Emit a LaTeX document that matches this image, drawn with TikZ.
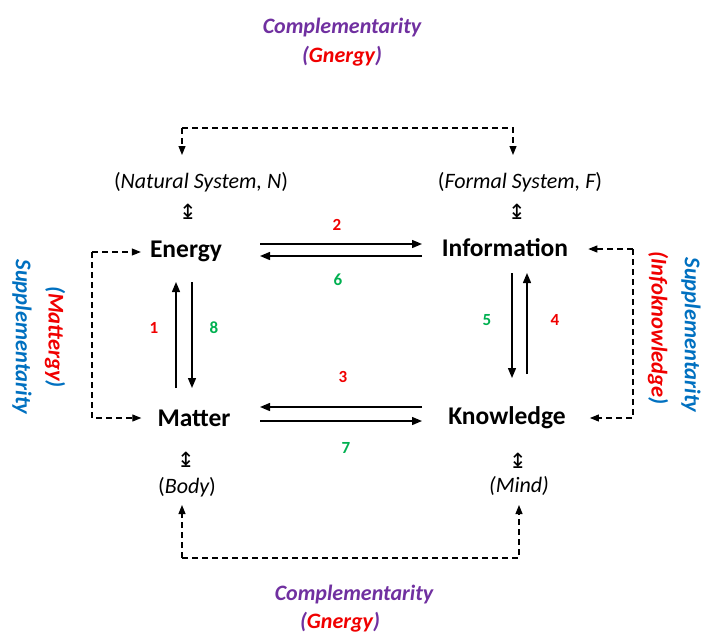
\documentclass[tikz,border=0pt]{standalone}
\usepackage{fontspec}
\setmainfont{Carlito}
\newfontfamily\symfont{DejaVu Sans}
\usetikzlibrary{arrows.meta,calc}
\definecolor{cpurple}{HTML}{7030A0}
\definecolor{cred}{HTML}{F00000}
\definecolor{cblue}{HTML}{0070C0}
\definecolor{cgreen}{HTML}{00B050}
\tikzset{
  mainnode/.style={font=\bfseries\fontsize{25.5}{30}\selectfont, inner sep=0pt, anchor=base},
  sysnode/.style={font=\itshape\fontsize{22}{26}\selectfont, inner sep=0pt, anchor=base},
  updown/.style={font=\symfont\fontsize{21}{24}\selectfont, inner sep=0pt},
  numred/.style={font=\bfseries\fontsize{17}{20}\selectfont, text=cred, inner sep=0pt},
  numgreen/.style={font=\bfseries\fontsize{17}{20}\selectfont, text=cgreen, inner sep=0pt},
  sidelabel/.style={font=\bfseries\itshape\fontsize{22}{26}\selectfont, inner sep=0pt, anchor=base},
  vlabel/.style={font=\bfseries\itshape\fontsize{22.5}{26}\selectfont, inner sep=0pt, rotate=-90},
  solidarr/.style={line width=1.4pt, -{Triangle[length=10pt,width=8pt]}},
  dasharr/.style={line width=1.1pt, dash pattern=on 6pt off 4pt, -{Triangle[length=9pt,width=7pt]}},
}
\begin{document}
\begin{tikzpicture}[x=1pt,y=-1pt]
\useasboundingbox (0,0) rectangle (701,635);
% top labels
\node[sidelabel, text=cpurple] (ctop) at (342,33) {Complementarity};
\node[sidelabel] (gtop) at (342,62) {\textcolor{cpurple}{(}\textcolor{cred}{Gnergy}\textcolor{cpurple}{)}};
% bottom labels
\node[sidelabel, text=cpurple] (cbot) at (354,600) {Complementarity};
\node[sidelabel] (gbot) at (340,628) {\textcolor{cpurple}{(}\textcolor{cred}{Gnergy}\textcolor{cpurple}{)}};
% system labels
\node[sysnode] (N) at (201,188) {\upshape(\itshape Natural System, N\upshape)};
\node[sysnode] (F) at (520,188) {\upshape(\itshape Formal System, F\upshape)};
\node[sysnode] (B) at (187,493) {\upshape(\itshape Body\upshape)};
\node[sysnode] (Mi) at (519,492) {(Mind)};
% up-down symbols
\node[updown] (ud1) at (188,212) {↨};
\node[updown] (ud2) at (517,212) {↨};
\node[updown] (ud3) at (186,460) {↨};
\node[updown] (ud4) at (518,461) {↨};
% main nodes
\node[mainnode] (E) at (186,257) {Energy};
\node[mainnode] (I) at (505,256) {Information};
\node[mainnode] (M) at (194,426) {Matter};
\node[mainnode] (K) at (507,424) {Knowledge};
% horizontal arrows top
\draw[solidarr] ($(E.base)+(74,-13)$) -- ($(I.base)+(-83,-12)$);
\draw[solidarr] ($(I.base)+(-83,0)$) -- ($(E.base)+(74,-1)$);
\node[numred] (n2) at (337,225) {2};
\node[numgreen] (n6) at (338,280) {6};
% horizontal arrows bottom
\draw[solidarr] ($(K.base)+(-85,-17)$) -- ($(M.base)+(66,-19)$);
\draw[solidarr] ($(M.base)+(66,-5)$) -- ($(K.base)+(-85,-3)$);
\node[numred] (n3) at (343,377) {3};
\node[numgreen] (n7) at (346,448) {7};
% vertical arrows left
\draw[solidarr] ($(M.base)+(-18,-38)$) -- ($(E.base)+(-10,25)$);
\draw[solidarr] ($(E.base)+(6,25)$) -- ($(M.base)+(-2,-38)$);
\node[numred] (n1) at (154,328) {1};
\node[numgreen] (n8) at (214,328) {8};
% vertical arrows right
\draw[solidarr] ($(I.base)+(7,17)$) -- ($(K.base)+(5,-46)$);
\draw[solidarr] ($(K.base)+(20,-50)$) -- ($(I.base)+(22,17)$);
\node[numgreen] (n5) at (487,320) {5};
\node[numred] (n4) at (555,320) {4};
% dashed connectors
\coordinate (tl) at (182,128);
\coordinate (tr) at (513,128);
\draw[dasharr] (tl) -- ++(0,27);
\draw[dasharr] (tl) -- (tr) -- ++(0,27);
\coordinate (bl) at (182,558);
\coordinate (br) at (519,558);
\draw[dasharr] (bl) -- ++(0,-53);
\draw[dasharr] (bl) -- (br) -- ++(0,-53);
\coordinate (ll1) at (92,252);
\coordinate (ll2) at (92,418);
\draw[dasharr] (ll1) -- ($(E.west |- ll1)+(-9,0)$);
\draw[dasharr] (ll1) -- (ll2) -- ($(M.west |- ll2)+(-16,0)$);
\coordinate (rr1) at (633,249);
\coordinate (rr2) at (633,418);
\draw[dasharr] (rr1) -- ($(I.east |- rr1)+(20,0)$);
\draw[dasharr] (rr1) -- (rr2) -- ($(K.east |- rr2)+(24,0)$);
% vertical side labels
\node[vlabel, text=cblue] (sl) at (22,337) {Supplementarity};
\node[vlabel] (ml) at (55,337) {\textcolor{cblue}{(}\textcolor{cred}{Mattergy}\textcolor{cblue}{)}};
\node[vlabel, text=cblue] (sr) at (691,335) {Supplementarity};
\node[vlabel] (ir) at (658,328) {\textcolor{cred}{(}\textcolor{cred}{Infoknowledge}\textcolor{cblue}{)}};
\end{tikzpicture}
\end{document}
